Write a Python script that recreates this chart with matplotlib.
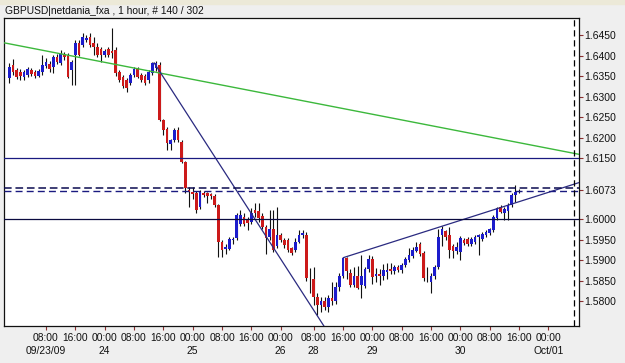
import matplotlib
matplotlib.use("Agg")
import matplotlib.pyplot as plt
import numpy as np
from matplotlib.patches import Rectangle

plt.rcParams['font.family'] = ['Liberation Sans', 'DejaVu Sans']

# ---------------- data ----------------
title = "GBPUSD|netdania_fxa , 1 hour, # 140 / 302"
first_bar = -10  # bar index of first candle (08:00 on 09/23 = 0)

opens = [
    1.6344, 1.6376, 1.6365, 1.6360, 1.6348, 1.6352, 1.6365, 1.6360, 1.6350, 1.6360,
    1.6375, 1.6380, 1.6373, 1.6397, 1.6382, 1.6403, 1.6401, 1.6365, 1.6401, 1.6430,
    1.6425, 1.6438, 1.6446, 1.6430, 1.6421, 1.6417, 1.6401, 1.6415, 1.6410, 1.6413,
    1.6360, 1.6348, 1.6340, 1.6332, 1.6352, 1.6368, 1.6352, 1.6350, 1.6340, 1.6357,
    1.6370, 1.6377, 1.6243, 1.6221, 1.6185, 1.6194, 1.6218, 1.6190, 1.6141, 1.6071,
    1.6067, 1.6065, 1.6031, 1.6065, 1.6064, 1.6062, 1.6058, 1.6035, 1.5946, 1.5928,
    1.5928, 1.5950, 1.5954, 1.5990, 1.6007, 1.5999, 1.5994, 1.6023, 1.6020, 1.6009,
    1.5982, 1.5958, 1.5978, 1.5936, 1.5962, 1.5950, 1.5950, 1.5930, 1.5926, 1.5946,
    1.5961, 1.5962, 1.5858, 1.5855, 1.5811, 1.5791, 1.5800, 1.5787, 1.5808, 1.5800,
    1.5836, 1.5862, 1.5905, 1.5870, 1.5840, 1.5862, 1.5840, 1.5838, 1.5879, 1.5903,
    1.5862, 1.5866, 1.5862, 1.5872, 1.5880, 1.5874, 1.5884, 1.5876, 1.5888, 1.5900,
    1.5911, 1.5924, 1.5940, 1.5918, 1.5860, 1.5848, 1.5862, 1.5885, 1.5962, 1.5971,
    1.5962, 1.5935, 1.5923, 1.5921, 1.5950, 1.5953, 1.5940, 1.5946, 1.5958, 1.5952,
    1.5962, 1.5968, 1.5974, 1.6003, 1.6030, 1.6016, 1.6021, 1.6035, 1.6060, 1.6066,
]
highs = [
    1.6381, 1.6392, 1.6370, 1.6368, 1.6365, 1.6372, 1.6370, 1.6364, 1.6368, 1.6401,
    1.6395, 1.6386, 1.6401, 1.6403, 1.6413, 1.6408, 1.6405, 1.6390, 1.6438, 1.6438,
    1.6454, 1.6450, 1.6454, 1.6446, 1.6430, 1.6421, 1.6415, 1.6421, 1.6466, 1.6421,
    1.6364, 1.6352, 1.6345, 1.6357, 1.6373, 1.6372, 1.6357, 1.6355, 1.6365, 1.6385,
    1.6386, 1.6385, 1.6246, 1.6226, 1.6197, 1.6223, 1.6226, 1.6194, 1.6143, 1.6080,
    1.6080, 1.6070, 1.6072, 1.6070, 1.6068, 1.6065, 1.6062, 1.6038, 1.5950, 1.5940,
    1.5958, 1.5958, 1.6016, 1.6023, 1.6016, 1.6005, 1.6028, 1.6040, 1.6040, 1.6015,
    1.5986, 1.6023, 1.6023, 1.6031, 1.5966, 1.5954, 1.5954, 1.5934, 1.5954, 1.5975,
    1.5975, 1.5970, 1.5882, 1.5885, 1.5820, 1.5812, 1.5810, 1.5815, 1.5848, 1.5848,
    1.5869, 1.5909, 1.5909, 1.5880, 1.5885, 1.5887, 1.5913, 1.5885, 1.5913, 1.5911,
    1.5882, 1.5880, 1.5891, 1.5893, 1.5895, 1.5890, 1.5890, 1.5895, 1.5909, 1.5930,
    1.5932, 1.5945, 1.5946, 1.5922, 1.5885, 1.5870, 1.5890, 1.5976, 1.5983, 1.5975,
    1.5982, 1.5940, 1.5945, 1.5960, 1.5955, 1.5958, 1.5958, 1.5963, 1.5965, 1.5970,
    1.5975, 1.5980, 1.6012, 1.6031, 1.6035, 1.6030, 1.6040, 1.6065, 1.6084, 1.6074,
]
lows = [
    1.6332, 1.6352, 1.6343, 1.6340, 1.6340, 1.6348, 1.6350, 1.6345, 1.6347, 1.6352,
    1.6370, 1.6360, 1.6357, 1.6380, 1.6378, 1.6390, 1.6345, 1.6328, 1.6328, 1.6398,
    1.6420, 1.6432, 1.6420, 1.6401, 1.6397, 1.6385, 1.6397, 1.6397, 1.6395, 1.6350,
    1.6335, 1.6320, 1.6312, 1.6328, 1.6348, 1.6345, 1.6335, 1.6328, 1.6332, 1.6352,
    1.6362, 1.6240, 1.6206, 1.6170, 1.6170, 1.6190, 1.6190, 1.6138, 1.6065, 1.6031,
    1.6050, 1.6015, 1.6026, 1.6055, 1.6040, 1.6050, 1.6030, 1.5909, 1.5909, 1.5915,
    1.5925, 1.5940, 1.5950, 1.5985, 1.5985, 1.5975, 1.5990, 1.6005, 1.5995, 1.5978,
    1.5915, 1.5950, 1.5920, 1.5930, 1.5945, 1.5930, 1.5920, 1.5913, 1.5920, 1.5942,
    1.5955, 1.5850, 1.5820, 1.5791, 1.5767, 1.5775, 1.5780, 1.5774, 1.5792, 1.5795,
    1.5826, 1.5858, 1.5855, 1.5835, 1.5835, 1.5830, 1.5808, 1.5833, 1.5872, 1.5843,
    1.5848, 1.5840, 1.5852, 1.5855, 1.5868, 1.5868, 1.5872, 1.5870, 1.5884, 1.5896,
    1.5906, 1.5920, 1.5910, 1.5850, 1.5848, 1.5820, 1.5855, 1.5880, 1.5935, 1.5950,
    1.5905, 1.5905, 1.5915, 1.5901, 1.5938, 1.5935, 1.5935, 1.5940, 1.5913, 1.5948,
    1.5958, 1.5962, 1.5970, 1.5998, 1.6015, 1.5999, 1.5999, 1.6030, 1.6043, 1.6064,
]
closes = [
    1.6373, 1.6360, 1.6348, 1.6350, 1.6360, 1.6367, 1.6355, 1.6350, 1.6363, 1.6376,
    1.6385, 1.6368, 1.6397, 1.6385, 1.6403, 1.6397, 1.6348, 1.6385, 1.6430, 1.6401,
    1.6446, 1.6442, 1.6425, 1.6421, 1.6401, 1.6401, 1.6411, 1.6401, 1.6405, 1.6357,
    1.6340, 1.6326, 1.6320, 1.6352, 1.6368, 1.6348, 1.6340, 1.6333, 1.6360, 1.6381,
    1.6381, 1.6243, 1.6218, 1.6187, 1.6194, 1.6218, 1.6194, 1.6141, 1.6076, 1.6068,
    1.6062, 1.6023, 1.6068, 1.6060, 1.6058, 1.6058, 1.6035, 1.5946, 1.5926, 1.5933,
    1.5953, 1.5953, 1.6011, 1.6011, 1.5990, 1.5991, 1.6015, 1.6015, 1.6003, 1.5982,
    1.5954, 1.5978, 1.5925, 1.5962, 1.5950, 1.5938, 1.5926, 1.5918, 1.5946, 1.5962,
    1.5966, 1.5858, 1.5857, 1.5811, 1.5791, 1.5800, 1.5787, 1.5808, 1.5800, 1.5836,
    1.5862, 1.5905, 1.5874, 1.5840, 1.5862, 1.5833, 1.5862, 1.5879, 1.5903, 1.5860,
    1.5866, 1.5862, 1.5876, 1.5878, 1.5874, 1.5884, 1.5878, 1.5890, 1.5903, 1.5914,
    1.5925, 1.5932, 1.5915, 1.5857, 1.5859, 1.5862, 1.5885, 1.5958, 1.5978, 1.5958,
    1.5926, 1.5923, 1.5932, 1.5954, 1.5942, 1.5940, 1.5953, 1.5958, 1.5962, 1.5965,
    1.5970, 1.5976, 1.6007, 1.6027, 1.6019, 1.6025, 1.6035, 1.6060, 1.6068, 1.6070,
]

# x tick bar indices and labels
tick_bars = [0, 8, 16, 24, 32, 40, 48, 56, 64, 73, 81, 89, 97, 105, 113, 121, 129, 137]
tick_times = ["08:00", "16:00", "00:00", "08:00", "16:00", "00:00", "08:00", "16:00", "00:00",
              "08:00", "16:00", "00:00", "08:00", "16:00", "00:00", "08:00", "16:00", "00:00"]
date_bars = [0, 16, 40, 64, 73, 89, 113, 137]
date_labels = ["09/23/09", "24", "25", "26", "28", "29", "30", "Oct/01"]

# y ticks
y_ticks = [1.6450, 1.6400, 1.6350, 1.6300, 1.6250, 1.6200, 1.6150, 1.6073,
           1.6000, 1.5950, 1.5900, 1.5850, 1.5800]
y_labels = ["1.6450", "1.6400", "1.6350", "1.6300", "1.6250", "1.6200", "1.6150", "1.6073",
            "1.6000", "1.5950", "1.5900", "1.5850", "1.5800"]

# drawn studies (bar index, price)
green_line_x = [-11.45, 145.35]
green_line_y = [1.6431, 1.6159]
down_line_x = [29.5, 75.8]
down_line_y = [1.6382, 1.5740]
up_line_x = [81.1, 145.35]
up_line_y = [1.5907, 1.6090]
level_lines = [1.6150, 1.6000]
dashed_levels = [1.6076, 1.6069]
cursor_bar = 144.1

x_range = (-11.45, 145.35)
y_range = (1.57402, 1.64915)

# ---------------- figure ----------------
W, H = 625, 363
fig = plt.figure(figsize=(W / 100, H / 100), dpi=100, facecolor='#efefef')
fig.patches.append(Rectangle((0, 1 - 4 / H), 1, 4 / H, transform=fig.transFigure,
                             color='#ece9d8', zorder=0))
ax = fig.add_axes([4 / W, 1 - 326 / H, 575 / W, 308 / H])
ax.set_facecolor('white')

idx = np.arange(first_bar, first_bar + len(opens))
o = np.array(opens); c = np.array(closes); h = np.array(highs); l = np.array(lows)
up = c >= o
colors = np.where(up, '#1c1ccc', '#cc1a1a')

ax.vlines(idx, l, h, color='#111111', linewidth=0.8, zorder=2)
body_bottom = np.minimum(o, c)
body_h = np.maximum(np.abs(c - o), 0.00008)
ax.bar(idx, body_h, bottom=body_bottom, width=0.75, color=colors, edgecolor='none', zorder=3)

# studies
ax.plot(green_line_x, green_line_y, color='#3cb83c', linewidth=1.0, zorder=4)
ax.plot(down_line_x, down_line_y, color='#2a2a80', linewidth=0.9, zorder=4)
ax.plot(up_line_x, up_line_y, color='#2a2a80', linewidth=0.9, zorder=4)
ax.axhline(level_lines[0], color='#1a1a80', linewidth=0.9, zorder=4)
ax.axhline(level_lines[1], color='#0a0a40', linewidth=0.9, zorder=4)
ax.axhline(dashed_levels[0], color='#0a0a50', linewidth=1.1, linestyle=(0, (5, 2.5)), zorder=4)
ax.axhline(dashed_levels[1], color='#1a1a80', linewidth=1.0, linestyle=(0, (5, 3)), zorder=4)
ax.axvline(cursor_bar, color='black', linewidth=0.9, linestyle=(0, (5, 3)), zorder=4)

ax.set_xlim(*x_range)
ax.set_ylim(*y_range)

ax.yaxis.tick_right()
ax.set_yticks(y_ticks)
ax.set_yticklabels(y_labels)
ax.tick_params(axis='y', direction='out', length=3, width=0.8, color='#8b3030',
               labelsize=7.5, pad=1, labelcolor='#111111')

ax.set_xticks(tick_bars)
ax.set_xticklabels(tick_times)
ax.tick_params(axis='x', direction='out', length=3, width=0.8, color='#8b3030',
               labelsize=7.4, pad=2, labelcolor='#111111')

for b, d in zip(date_bars, date_labels):
    ax.annotate(d, xy=(b, 0), xycoords=('data', 'axes fraction'),
                xytext=(0, -25), textcoords='offset pixels',
                ha='center', va='center', fontsize=7.4, color='#111111',
                annotation_clip=False)

for s in ax.spines.values():
    s.set_color('#111111')
    s.set_linewidth(0.9)

fig.text(5 / W, 1 - 11 / H, title, ha='left', va='center', fontsize=7.4, color='#111111')

fig.savefig('out.png', dpi=100, facecolor=fig.get_facecolor())
